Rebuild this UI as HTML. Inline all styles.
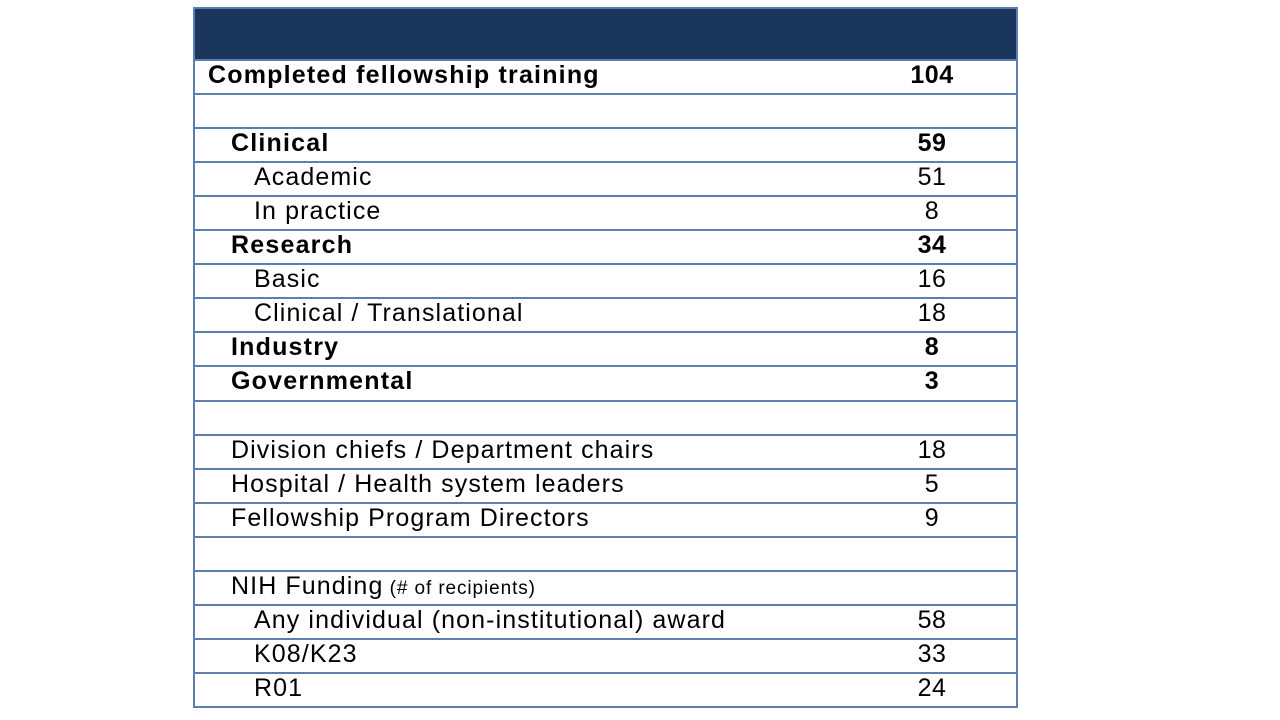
<!DOCTYPE html>
<html><head><meta charset="utf-8"><style>
body{margin:0;background:#fff;width:1280px;height:720px;position:relative;font-family:"Liberation Sans",Arial,sans-serif;}
#tbl{position:absolute;left:193px;top:7px;width:821px;height:697px;border:2px solid #5a7fb0;}
.hdr{position:absolute;left:0;top:0;width:821px;height:50px;background:#1b365d;}
.row{position:absolute;left:0;width:821px;height:34px;border-top:2px solid #5a7fb0;box-sizing:border-box;font-size:25px;color:#000;}
.lbl{position:absolute;top:0px;white-space:nowrap;letter-spacing:1.1px;}
.b .lbl{letter-spacing:1.2px;}
.val{position:absolute;top:0px;left:687px;width:100px;text-align:center;letter-spacing:0.5px;}
.b{font-weight:bold;}
.small{font-size:19px;letter-spacing:0.9px;}
</style></head><body>
<div id="tbl">
<div class="hdr"></div>
</div>
<script>
const labels=["Completed fellowship training","","Clinical","Academic","In practice","Research","Basic","Clinical / Translational","Industry","Governmental","","Division chiefs / Department chairs","Hospital / Health system leaders","Fellowship Program Directors","","NIH Funding","Any individual (non-institutional) award","K08/K23","R01"];
const values=["104","","59","51","8","34","16","18","8","3","","18","5","9","","","58","33","24"];
const levels=[0,0,1,2,2,1,2,2,1,1,0,1,1,1,0,1,2,2,2];
const bolds=[1,0,1,0,0,1,0,0,1,1,0,0,0,0,0,0,0,0,0];
const tbl=document.getElementById('tbl');
const indent=[13,36,59];
labels.forEach((l,i)=>{
 const r=document.createElement('div');
 r.className='row'+(bolds[i]?' b':'');
 r.style.top=(50+i*34.05)+'px';
 
 
 const a=document.createElement('span');
 a.className='lbl';a.style.left=indent[levels[i]]+'px';
 a.textContent=l;
 if(l==='NIH Funding'){const s=document.createElement('span');s.className='small';s.textContent=' (# of recipients)';a.appendChild(s);}
 
 
 const v=document.createElement('span');
 v.className='val';v.textContent=values[i];
 
 
 r.appendChild(a);r.appendChild(v);tbl.appendChild(r);
});
</script>
</body></html>
